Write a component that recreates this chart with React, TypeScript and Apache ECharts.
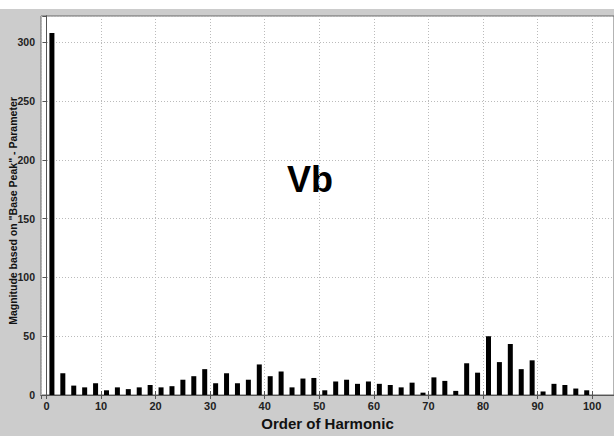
import React, { useEffect, useRef } from "react";
import * as echarts from "echarts";

const harmonics = [1, 3, 5, 7, 9, 11, 13, 15, 17, 19, 21, 23, 25, 27, 29, 31, 33, 35, 37, 39, 41, 43, 45, 47, 49, 51, 53, 55, 57, 59, 61, 63, 65, 67, 69, 71, 73, 75, 77, 79, 81, 83, 85, 87, 89, 91, 93, 95, 97, 99];
const magnitudes = [308, 18.5, 8, 6.5, 10, 4, 6.5, 5, 6.5, 8.5, 6.5, 7.5, 13, 16, 22, 10, 18.5, 10, 13, 26, 16, 20, 6.5, 14, 14.5, 4, 11.5, 13, 9.5, 11.5, 9.5, 8.5, 6.5, 10.5, 2, 15, 12, 3.5, 27, 19, 50, 28, 43.5, 22, 29.5, 3, 9.5, 8.5, 5.5, 4];
const xLabel = "Order of Harmonic";
const yLabel = 'Magnitude based on "Base Peak" - Parameter';
const titleText = "Vb";

const FONT = "'Liberation Sans Narrow', 'Liberation Sans', Arial, sans-serif";

export default function App() {
  const ref = useRef<HTMLDivElement>(null);
  useEffect(() => {
    if (!ref.current) return;
    const chart = echarts.init(ref.current, null, { renderer: "svg" });
    const data = harmonics.map((h, i) => [h, magnitudes[i]]);
    const axisBase = {
      type: "value" as const,
      axisLine: { show: true, lineStyle: { color: "#555", width: 1 } },
    };
    chart.setOption({
      animation: false,
      backgroundColor: "transparent",
      grid: {
        show: true,
        left: 41,
        top: 16,
        right: -1,
        bottom: 33,
        backgroundColor: "#ffffff",
        borderColor: "#666",
        borderWidth: 1,
      },
      xAxis: [
        {
          ...axisBase,
          position: "bottom",
          min: -1,
          max: 104,
          splitNumber: 10,
          axisTick: { show: true, inside: true, length: 4, lineStyle: { color: "#555" } },
          axisLabel: {
            show: true,
            showMinLabel: false,
            showMaxLabel: false,
            margin: 5,
            fontFamily: FONT,
            fontWeight: "bold",
            fontSize: 11,
            color: "#222",
          },
          splitLine: { show: true, lineStyle: { color: "#bbb", type: [1, 2], width: 1 } },
          name: xLabel,
          nameLocation: "middle",
          nameGap: 21,
          nameTextStyle: { fontFamily: FONT, fontWeight: "bold", fontSize: 15, color: "#111" },
        },
        {
          ...axisBase,
          position: "top",
          min: -1,
          max: 104,
          splitNumber: 10,
          axisTick: { show: true, inside: true, length: 4, lineStyle: { color: "#555" } },
          axisLabel: { show: false },
          splitLine: { show: false },
        },
      ],
      yAxis: [
        {
          ...axisBase,
          position: "left",
          min: 0,
          max: 322.5,
          interval: 50,
          axisTick: { show: true, inside: false, length: 3, lineStyle: { color: "#555" } },
          axisLabel: {
            show: true,
            showMaxLabel: false,
            margin: 6,
            fontFamily: FONT,
            fontWeight: "bold",
            fontSize: 10.5,
            color: "#222",
          },
          splitLine: { show: true, lineStyle: { color: "#bbb", type: [1, 2], width: 1 } },
        },
        {
          ...axisBase,
          position: "right",
          min: 0,
          max: 322.5,
          interval: 50,
          axisTick: { show: true, inside: true, length: 4, lineStyle: { color: "#555" } },
          axisLabel: { show: false },
          splitLine: { show: false },
        },
      ],
      series: [
        {
          type: "bar",
          xAxisIndex: 0,
          yAxisIndex: 0,
          data,
          barWidth: 5,
          itemStyle: { color: "#000000" },
        },
      ],
      graphic: [
        {
          type: "text",
          x: 13,
          y: 211,
          rotation: Math.PI / 2,
          style: {
            text: yLabel,
            fontFamily: FONT,
            fontWeight: "bold",
            fontSize: 10.5,
            fill: "#111",
            align: "center",
            verticalAlign: "middle",
          },
        },
        {
          type: "text",
          x: 310,
          y: 179,
          style: {
            text: titleText,
            fontFamily: "'Liberation Sans', Arial, sans-serif",
            fontWeight: "bold",
            fontSize: 36,
            fill: "#000",
            align: "center",
            verticalAlign: "middle",
          },
        },
      ],
    });
    return () => chart.dispose();
  }, []);

  return (
    <div style={{ position: "absolute", left: 0, top: 0, width: 614, height: 436, background: "#ffffff", overflow: "hidden" }}>
      <div style={{ position: "absolute", left: 0, top: 9, width: 614, height: 427, background: "#cccccc" }} />
      <div ref={ref} style={{ position: "absolute", left: 0, top: 0, width: 614, height: 436 }} />
    </div>
  );
}
